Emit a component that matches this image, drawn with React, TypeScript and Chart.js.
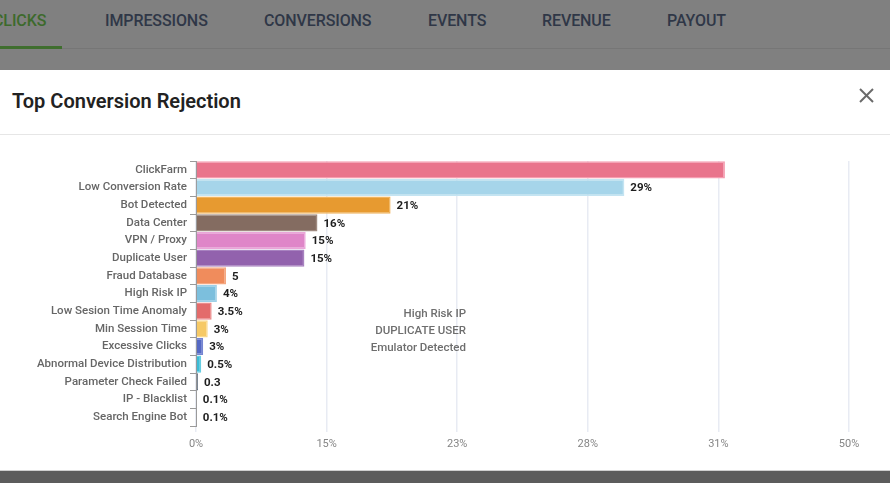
import React, { useEffect, useRef } from "react";
import { Chart, registerables } from "chart.js";

Chart.register(...registerables);

const categories = [
  "ClickFarm",
  "Low Conversion Rate",
  "Bot Detected",
  "Data Center",
  "VPN / Proxy",
  "Duplicate User",
  "Fraud Database",
  "High Risk IP",
  "Low Sesion Time Anomaly",
  "Min Session Time",
  "Excessive Clicks",
  "Abnormal Device Distribution",
  "Parameter Check Failed",
  "IP - Blacklist",
  "Search Engine Bot",
];

const values = [40.5, 32.8, 14.9, 9.3, 8.4, 8.3, 2.3, 1.6, 1.2, 0.9, 0.55, 0.4, 0.15, 0.06, 0.06];

const valueLabels = ["", "29%", "21%", "16%", "15%", "15%", "5", "4%", "3.5%", "3%", "3%", "0.5%", "0.3", "0.1%", "0.1%"];

const barColors = [
  "#e9748c",
  "#a6d5ea",
  "#e79a30",
  "#846c61",
  "#df86c8",
  "#9262ad",
  "#f08c5c",
  "#7cbfdd",
  "#e36b6b",
  "#f6c965",
  "#5468c4",
  "#3cbcd6",
  "#3b4a5a",
  "#c9a0a0",
  "#e3bcbc",
];

const barBorders = [
  "#f59cb0",
  "#c4e4f2",
  "#f0b45e",
  "#9f8a80",
  "#eaa6d8",
  "#a882c0",
  "#f5a780",
  "#9dd0e7",
  "#ec8c8c",
  "#f9d88c",
  "#7585d2",
  "#66cde2",
  "#56657a",
  "#d8b8b8",
  "#ecd0d0",
];

const tickLabels = ["0%", "15%", "23%", "28%", "31%", "50%"];

const noteLines = ["High Risk IP", "DUPLICATE USER", "Emulator Detected"];

const tabs = ["CLICKS", "IMPRESSIONS", "CONVERSIONS", "EVENTS", "REVENUE", "PAYOUT"];
const tabX = [-7, 105, 264, 428, 542, 667];

const FONT = "Roboto, 'Noto Sans', sans-serif";

export default function App() {
  const canvasRef = useRef<HTMLCanvasElement | null>(null);

  useEffect(() => {
    const prevMargin = document.body.style.margin;
    document.body.style.margin = "0";
    const canvas = canvasRef.current;
    if (!canvas) return;

    const labelPlugin = {
      id: "valueLabels",
      afterDatasetsDraw(chart: any) {
        const ctx = chart.ctx;
        const meta = chart.getDatasetMeta(0);
        ctx.save();
        ctx.font = `bold 11.5px ${FONT}`;
        ctx.fillStyle = "#1e1e1e";
        ctx.textBaseline = "middle";
        ctx.textAlign = "left";
        meta.data.forEach((bar: any, i: number) => {
          const t = valueLabels[i];
          if (t) ctx.fillText(t, bar.x + 6, bar.y + 1);
        });
        ctx.restore();
      },
    };

    const chart = new Chart(canvas, {
      type: "bar",
      data: {
        labels: categories,
        datasets: [
          {
            data: values,
            backgroundColor: barColors,
            borderColor: barBorders,
            borderWidth: 1.5,
            barPercentage: 0.97,
            categoryPercentage: 1,
          },
        ],
      },
      options: {
        indexAxis: "y",
        animation: false,
        responsive: false,
        maintainAspectRatio: false,
        layout: { padding: { top: 20, right: 41, left: 0, bottom: 0 } },
        plugins: {
          legend: { display: false },
          tooltip: { enabled: false },
          title: { display: false },
        },
        scales: {
          x: {
            min: 0,
            max: 50,
            afterFit: (scale: any) => {
              scale.height = 35;
            },
            ticks: {
              stepSize: 10,
              color: "#858585",
              font: { family: FONT, size: 11 },
              padding: 6,
              maxRotation: 0,
              callback: (_v: any, i: number) => tickLabels[i],
            },
            grid: {
              color: "#e8ebf3",
              lineWidth: 1.5,
              tickLength: 6,
            },
            border: { display: false },
          },
          y: {
            afterFit: (scale: any) => {
              scale.width = 196;
            },
            ticks: {
              color: "#666666",
              font: { family: FONT, size: 11.5, weight: "500" },
              padding: 3,
              autoSkip: false,
            },
            grid: {
              display: true,
              drawOnChartArea: false,
              drawTicks: true,
              tickLength: 6,
              color: "#9a9a9a",
              offset: true,
            },
            border: { display: true, color: "#9a9a9a", width: 1 },
          },
        },
      },
      plugins: [labelPlugin],
    } as any);

    return () => {
      chart.destroy();
      document.body.style.margin = prevMargin;
    };
  }, []);

  return (
    <div
      style={{
        position: "absolute",
        left: 0,
        top: 0,
        width: 890,
        height: 483,
        overflow: "hidden",
        background: "#ffffff",
        fontFamily: FONT,
      }}
    >
      {/* dimmed header */}
      <div style={{ position: "absolute", left: 0, top: 0, width: 890, height: 70, background: "#808080" }}>
        {tabs.map((t, i) => (
          <div
            key={t}
            style={{
              position: "absolute",
              left: tabX[i],
              top: 11,
              fontSize: 16,
              fontWeight: 500,
              letterSpacing: -0.1,
              color: i === 0 ? "#3d6a2c" : "#2f3747",
              whiteSpace: "nowrap",
            }}
          >
            {t}
          </div>
        ))}
        <div style={{ position: "absolute", left: 0, top: 48, width: 890, height: 1, background: "#767676" }} />
        <div style={{ position: "absolute", left: 0, top: 46, width: 62, height: 3, background: "#3f6e2e" }} />
      </div>

      {/* modal */}
      <div style={{ position: "absolute", left: 0, top: 70, width: 890, height: 400, background: "#ffffff" }}>
        <div
          style={{
            position: "absolute",
            left: 12,
            top: 19,
            fontSize: 20,
            fontWeight: 600,
            color: "#222222",
            whiteSpace: "nowrap",
          }}
        >
          Top Conversion Rejection
        </div>
        <svg style={{ position: "absolute", left: 859, top: 18 }} width="15" height="15" viewBox="0 0 15 15">
          <line x1="1" y1="1" x2="14" y2="14" stroke="#6a6a6a" strokeWidth="2" />
          <line x1="14" y1="1" x2="1" y2="14" stroke="#6a6a6a" strokeWidth="2" />
        </svg>
        <div style={{ position: "absolute", left: 0, top: 64, width: 890, height: 1, background: "#e6e6e6" }} />
      </div>

      <canvas
        ref={canvasRef}
        width={890}
        height={320}
        style={{ position: "absolute", left: 0, top: 141, width: 890, height: 320 }}
      />

      <div
        style={{
          position: "absolute",
          left: 300,
          width: 166,
          top: 305,
          textAlign: "right",
          fontSize: 11.5,
          fontWeight: 500,
          lineHeight: "17px",
          color: "#6e6e6e",
        }}
      >
        {noteLines.map((l) => (
          <div key={l}>{l}</div>
        ))}
      </div>

      {/* bottom dim band */}
      <div style={{ position: "absolute", left: 0, top: 470, width: 890, height: 13, background: "#5c5c5c", borderTop: "1px solid #cfcfcf" }} />
    </div>
  );
}
